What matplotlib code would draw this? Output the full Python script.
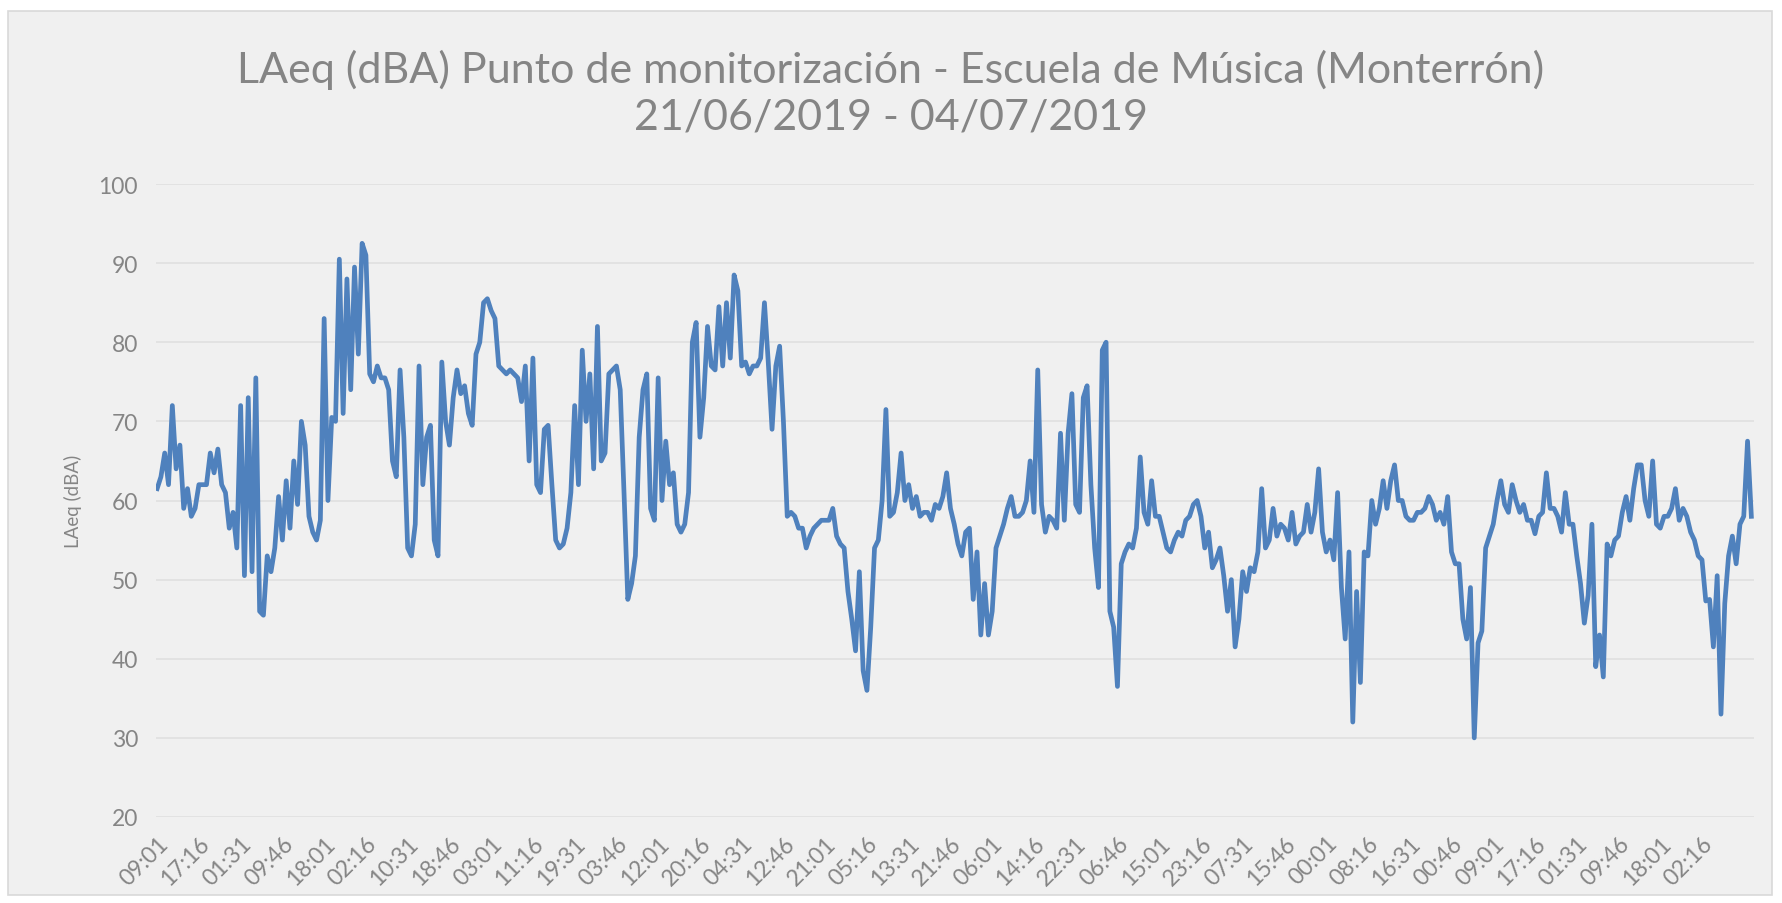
import numpy as np
import matplotlib
matplotlib.use("Agg")
import matplotlib.pyplot as plt
from matplotlib.patches import Rectangle

#LAeq readings, one value every 45 min
laeq_a = [61.5, 63, 66, 62, 72, 64, 67, 59, 61.5, 58, 59, 62, 62, 62, 66, 63.5, 66.5, 62, 61, 56.5,
          58.5, 54, 72, 50.5, 73, 51, 75.5, 46, 45.5, 53, 51, 54, 60.5, 55, 62.5, 56.5, 65, 59.5, 70, 67,
          58, 56, 55, 57.5, 83, 60, 70.5, 70, 90.5, 71, 88, 74, 89.5, 78.5, 92.5, 91, 76, 75, 77, 75.5]
laeq_b = [75.5, 74, 65, 63, 76.5, 68, 54, 53, 57, 77, 62, 68, 69.5, 55, 53, 77.5, 70, 67, 73, 76.5,
          73.5, 74.5, 71, 69.5, 78.5, 80, 85, 85.5, 84, 83, 77, 76.5, 76, 76.5, 76, 75.5, 72.5, 77, 65, 78,
          62, 61, 69, 69.5, 62, 55, 54, 54.5, 56.5, 61, 72, 62, 79, 70, 76, 64, 82, 65, 66, 76]
laeq_c = [76.5, 77, 74, 61, 47.5, 49.5, 53, 68, 74, 76, 59, 57.5, 75.5, 60, 67.5, 62, 63.5, 57, 56, 57,
          61, 80, 82.5, 68, 73, 82, 77, 76.5, 84.5, 77, 85, 78, 88.5, 86.5, 77, 77.5, 76, 77, 77, 78,
          85, 77.5, 69, 77, 79.5, 70, 58, 58.5, 58, 56.5, 56.5, 54, 55.5, 56.5, 57, 57.5, 57.5, 57.5, 59, 55.5]
laeq_d = [54.5, 54, 48.5, 45, 41, 51, 38.5, 36, 44, 54, 55, 60, 71.5, 58, 58.5, 61, 66, 60, 62, 59,
          60.5, 58, 58.5, 58.5, 57.5, 59.5, 59, 60.5, 63.5, 59, 57, 54.5, 53, 56, 56.5, 47.5, 53.5, 43, 49.5, 43,
          46, 54, 55.5, 57, 59, 60.5, 58, 58, 58.5, 60, 65, 58.5, 76.5, 59.5, 56, 58, 57.5, 56.5, 68.5, 57.5]
laeq_e = [68.5, 73.5, 59.5, 58.5, 73, 74.5, 62, 54, 49, 79, 80, 46, 44, 36.5, 52, 53.5, 54.5, 54, 56.5, 65.5,
          58.5, 57, 62.5, 58, 58, 56, 54, 53.5, 55, 56, 55.5, 57.5, 58, 59.5, 60, 58, 54, 56, 51.5, 52.5,
          54, 50.5, 46, 50, 41.5, 45, 51, 48.5, 51.5, 51, 53.5, 61.5, 54, 55, 59, 55.5, 57, 56.5, 55, 58.5]
laeq_f = [54.5, 55.5, 56, 59.5, 56, 58.5, 64, 56, 53.5, 55, 52.5, 61, 49, 42.5, 53.5, 32, 48.5, 37, 53.5, 53,
          60, 57, 59, 62.5, 59, 62.5, 64.5, 60, 60, 58, 57.5, 57.5, 58.5, 58.5, 59, 60.5, 59.5, 57.5, 58.5, 57,
          60.5, 53.5, 52, 52, 45, 42.5, 49, 30, 42, 43.5, 54, 55.5, 57, 60, 62.5, 59.5, 58.5, 62, 60, 58.5]
laeq_g = [59.5, 57.5, 57.5, 55.8, 58, 58.5, 63.5, 59, 59, 58, 56, 61, 57, 57, 53, 49.5, 44.5, 48, 57, 39,
          43, 37.7, 54.5, 53, 55, 55.5, 58.5, 60.5, 57.5, 61.5, 64.5, 64.5, 60, 58, 65, 57, 56.5, 58, 58, 59,
          61.5, 57.5, 59, 58, 56, 55, 53, 52.5, 47.3, 47.5, 41.5, 50.5, 33, 47, 53, 55.5, 52, 57, 58, 67.5, 58]

#x axis labels, one every 8h15 (11 readings)
hour_labels = ["09:01", "17:16", "01:31", "09:46", "18:01", "02:16", "10:31", "18:46", "03:01", "11:16",
               "19:31", "03:46", "12:01", "20:16", "04:31", "12:46", "21:01", "05:16", "13:31", "21:46",
               "06:01", "14:16", "22:31", "06:46", "15:01", "23:16", "07:31", "15:46", "00:01", "08:16",
               "16:31", "00:46", "09:01", "17:16", "01:31", "09:46", "18:01", "02:16"]
label_step = 11

laeq = np.array(laeq_a + laeq_b + laeq_c + laeq_d + laeq_e + laeq_f + laeq_g)
idx = np.arange(len(laeq))

grey = "#858585"
plt.rcParams['font.family'] = ['Lato', 'DejaVu Sans']

fig = plt.figure(figsize=(17.82, 9.04), dpi=100)
fig.patch.set_facecolor("white")
#chart area with thin border
fig.patches.append(Rectangle((8/1782, 1-896/904), 1764/1782, 884/904, transform=fig.transFigure,
                             facecolor="#F0F0F0", edgecolor="#D9D9D9", lw=1.2, zorder=-10))

ax = fig.add_axes([156/1782, 1-818/904, 1598/1782, 633/904])
ax.set_zorder(5)
ax.set_facecolor("#F0F0F0")
ax.plot(idx, laeq, color="#4F81BD", lw=3.4, solid_joinstyle="round", zorder=3)

ax.set_ylim(20, 100)
ax.set_yticks(np.arange(20, 101, 10))
ax.set_xlim(-0.3, len(laeq) - 0.3)
ticks = np.arange(len(hour_labels)) * label_step
ax.set_xticks(ticks)
ax.set_xticklabels(hour_labels, rotation=45, ha="right", rotation_mode="anchor")

ax.grid(axis="y", color="#E0E0E0", lw=1.2)
ax.set_axisbelow(True)
for s in ax.spines.values():
    s.set_visible(False)
ax.tick_params(axis="both", length=0, colors=grey, labelsize=16.5)
ax.tick_params(axis="x", pad=11)
ax.tick_params(axis="y", pad=13)

ax.set_ylabel("LAeq (dBA)", color=grey, fontsize=13.5, labelpad=12)

fig.text(0.5, 1-70/904, "LAeq (dBA) Punto de monitorización - Escuela de Música (Monterrón)",
         ha="center", va="center", fontsize=31, color="#858585")
fig.text(0.5, 1-117/904, "21/06/2019 - 04/07/2019",
         ha="center", va="center", fontsize=31, color="#858585")

fig.savefig("out.png", dpi=100, facecolor=fig.get_facecolor())
